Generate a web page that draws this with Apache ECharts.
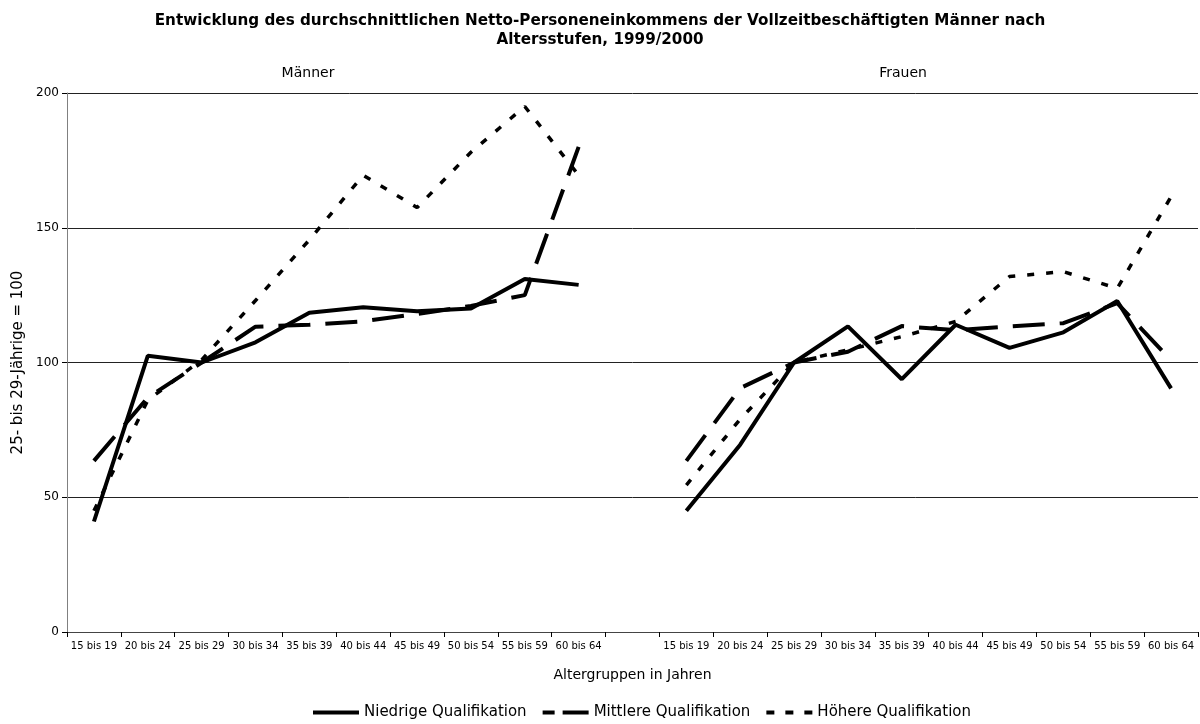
<!DOCTYPE html>
<html>
<head>
<meta charset="utf-8">
<title>Netto-Personeneinkommen nach Altersstufen</title>
<script src="https://cdn.jsdelivr.net/npm/echarts@6/dist/echarts.min.js"></script>
<style>
  html, body { margin: 0; padding: 0; background: #fff; }
  #chart { width: 1200px; height: 724px; }
</style>
</head>
<body>
<div id="chart"></div>
<script>
// Altersgruppen (einmal für Männer, einmal für Frauen)
const ageGroups = ['15 bis 19', '20 bis 24', '25 bis 29', '30 bis 34', '35 bis 39',
  '40 bis 44', '45 bis 49', '50 bis 54', '55 bis 59', '60 bis 64']

// Werte, 25- bis 29-Jährige = 100
const maennerNiedrig = [41, 102.5, 100, 107.5, 118.5, 120.5, 119, 120, 131, 128.8]
const maennerMittel = [63.5, 87, 100, 113.3, 114, 115.3, 118, 121, 125, 180]
const maennerHoeher = [45, 86, 101, 123, 145.5, 169.5, 157.5, 178, 195, 169.5]

const frauenNiedrig = [45, 69.5, 100, 113.4, 93.8, 114, 105.4, 111.2, 122.8, 90.4]
const frauenMittel = [63.5, 90.5, 100, 104, 113.5, 112, 113.4, 114.6, 122, 100.8]
const frauenHoeher = [54.5, 79, 100, 104.7, 109.6, 115.2, 131.9, 133.7, 127.5, 161.5]

const seriesNames = ['Niedrige Qualifikation', 'Mittlere Qualifikation', 'Höhere Qualifikation']

// eine leere Kategorie trennt Männer und Frauen
const categories = ageGroups.concat([''], ageGroups)
const joinGroups = (m, f) => m.concat([null], f)

const chart = echarts.init(document.getElementById('chart'))

const font = '"DejaVu Sans", Verdana, sans-serif'

// Legendensymbole als kleine Strichmuster
const iconSolid = 'path://M0,0H46V4H0Z'
const iconLong = 'path://M0,0H12V4H0Z M20,0H46V4H20Z'
const iconShort = 'path://M0,0H8V4H0Z M19,0H27V4H19Z M38,0H46V4H38Z'

const option = {
  animation: false,
  title: {
    text: 'Entwicklung des durchschnittlichen Netto-Personeneinkommens der Vollzeitbeschäftigten Männer nach\nAltersstufen, 1999/2000',
    left: 'center',
    top: 7,
    textStyle: {
      fontFamily: font,
      fontSize: 15.2,
      fontWeight: 'bold',
      color: '#000',
      lineHeight: 19
    }
  },
  graphic: [
    { type: 'text', x: 308, y: 73, style: { text: 'Männer', font: '14px ' + font, fill: '#000', align: 'center', verticalAlign: 'middle' } },
    { type: 'text', x: 903, y: 73, style: { text: 'Frauen', font: '14px ' + font, fill: '#000', align: 'center', verticalAlign: 'middle' } }
  ],
  legend: {
    left: 313,
    top: 705,
    padding: 0,
    itemWidth: 46,
    itemHeight: 4,
    itemGap: 16,
    itemStyle: { color: '#000', borderWidth: 0 },
    textStyle: { fontFamily: font, fontSize: 15, color: '#000' },
    data: [
      { name: seriesNames[0], icon: iconSolid },
      { name: seriesNames[1], icon: iconLong },
      { name: seriesNames[2], icon: iconShort }
    ]
  },
  grid: {
    left: 67,
    right: 2,
    top: 93,
    bottom: 92
  },
  xAxis: {
    type: 'category',
    data: categories,
    boundaryGap: true,
    name: 'Altergruppen in Jahren',
    nameLocation: 'middle',
    nameGap: 36,
    nameTextStyle: { fontFamily: font, fontSize: 14, color: '#000' },
    axisLine: { lineStyle: { color: '#444', width: 1 } },
    axisTick: { show: true, length: 5, lineStyle: { color: '#000' } },
    axisLabel: {
      interval: 0,
      color: '#000',
      fontFamily: font,
      fontSize: 10,
      margin: 9
    }
  },
  yAxis: {
    type: 'value',
    min: 0,
    max: 200,
    interval: 50,
    name: '25- bis 29-Jährige = 100',
    nameLocation: 'middle',
    nameGap: 40,
    nameTextStyle: { fontFamily: font, fontSize: 15, color: '#000' },
    axisLine: { show: true, lineStyle: { color: '#808080' } },
    axisTick: { show: true, length: 5, lineStyle: { color: '#000' } },
    axisLabel: { color: '#000', fontFamily: font, fontSize: 12, margin: 8 },
    splitLine: { show: true, lineStyle: { color: '#222', width: 1 } }
  },
  series: [
    {
      name: seriesNames[0],
      type: 'line',
      data: joinGroups(maennerNiedrig, frauenNiedrig),
      connectNulls: false,
      symbol: 'none',
      z: 4,
      lineStyle: { color: '#000', width: 4, type: 'solid' },
      itemStyle: { color: '#000' }
    },
    {
      name: seriesNames[1],
      type: 'line',
      data: joinGroups(maennerMittel, frauenMittel),
      connectNulls: false,
      symbol: 'none',
      z: 3,
      lineStyle: { color: '#000', width: 4, type: [32, 15] },
      itemStyle: { color: '#000' }
    },
    {
      name: seriesNames[2],
      type: 'line',
      data: joinGroups(maennerHoeher, frauenHoeher),
      connectNulls: false,
      symbol: 'none',
      z: 2,
      lineStyle: { color: '#000', width: 3.5, type: [7, 12] },
      itemStyle: { color: '#000' }
    }
  ]
}

chart.setOption(option)
</script>
</body>
</html>
